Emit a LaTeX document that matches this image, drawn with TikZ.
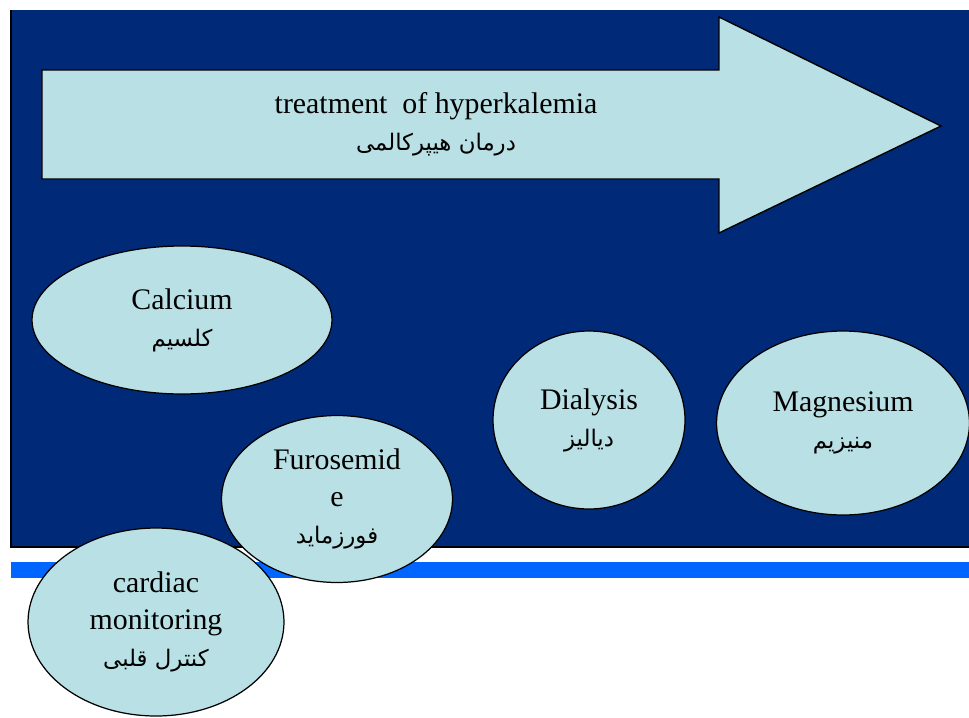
\documentclass[tikz,border=0pt]{standalone}
\usepackage{fontspec}
\setmainfont{Liberation Serif}
\newfontfamily\arabicfont[Script=Arabic]{DejaVu Sans}
\TeXXeTstate=1
\usetikzlibrary{shapes.geometric}
\usetikzlibrary{positioning}
\definecolor{slidebg}{RGB}{0,41,120}
\definecolor{paleblue}{RGB}{185,224,228}
\definecolor{stripeblue}{RGB}{0,102,255}
\newcommand{\fa}[1]{{\arabicfont\fontsize{13}{16}\selectfont\beginR #1\endR}}

\begin{document}
\begin{tikzpicture}[
        x=0.02cm, y=-0.02cm,
        every node/.style={font=\fontsize{17}{21}\selectfont,align=center,inner sep=0pt},
        bubble/.style={ellipse,draw=black,line width=0.7pt,fill=paleblue}
    ]
    \useasboundingbox (0,0) rectangle (969,717);
    \fill[slidebg] (11,10) rectangle (969,547);
    \draw[line width=0.8pt] (11,10) -- (11,547) -- (969,547);
    \fill[stripeblue] (11,562) rectangle (969,578);

    \draw[fill=paleblue,line width=0.8pt] (42,70) -- (719,70) -- (719,17) -- (941,126)
        -- (719,233) -- (719,179) -- (42,179) -- cycle;
    \node (title) at (436,124) {treatment\ \ of hyperkalemia\\\fa{درمان هیپرکالمی}};

    \node[bubble,minimum width=6cm,minimum height=2.96cm] (calcium) at (182,320) {Calcium\\\fa{کلسیم}};
    \node[bubble,minimum width=5.12cm,minimum height=3.76cm] (cardiac) at (156,622) {cardiac\\monitoring\\\fa{کنترل قلبی}};
    \node[bubble,minimum width=4.62cm,minimum height=3.34cm] (furosemide) at (337,499) {Furosemid\\e\\\fa{فورزماید}};
    \node[bubble,minimum width=3.84cm,minimum height=3.56cm] (dialysis) at (589,420) {Dialysis\\\fa{دیالیز}};
    \node[bubble,minimum width=5.06cm,minimum height=3.68cm] (magnesium) at (843,423) {Magnesium\\\fa{منیزیم}};
\end{tikzpicture}
\end{document}
